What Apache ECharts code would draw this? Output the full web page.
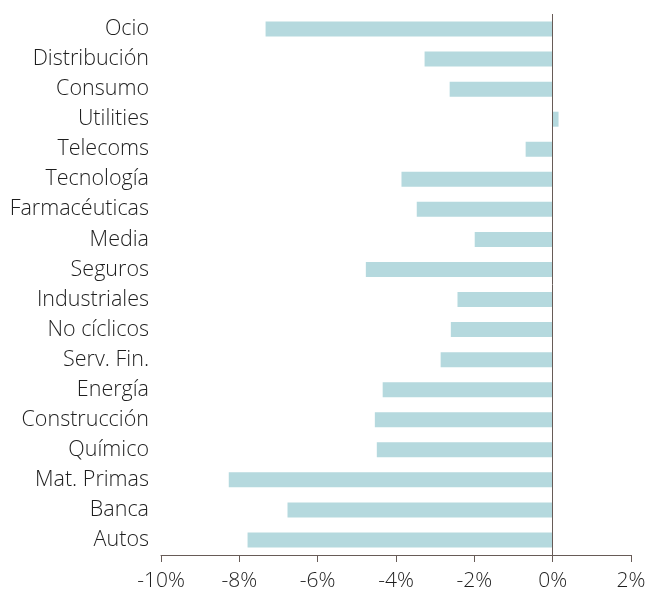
<!DOCTYPE html>
<html>
<head>
<meta charset="utf-8">
<script src="https://cdn.jsdelivr.net/npm/echarts@6/dist/echarts.min.js"></script>
<style>
  html, body { margin: 0; padding: 0; background: #fff; }
  #chart { width: 649px; height: 593px; }
</style>
</head>
<body>
<div id="chart"></div>
<script>
// sectors, bottom to top (category axis draws first item at the bottom)
const sectors = ['Autos', 'Banca', 'Mat. Primas', 'Químico', 'Construcción', 'Energía',
  'Serv. Fin.', 'No cíclicos', 'Industriales', 'Seguros', 'Media', 'Farmacéuticas',
  'Tecnología', 'Telecoms', 'Utilities', 'Consumo', 'Distribución', 'Ocio']
const changes = [-7.79, -6.77, -8.27, -4.49, -4.54, -4.34,
  -2.86, -2.60, -2.43, -4.77, -1.99, -3.47,
  -3.86, -0.69, 0.15, -2.63, -3.27, -7.33]

const axisColor = '#675b57'
const font = 'Open Sans'

const myChart = echarts.init(document.getElementById('chart'))
myChart.setOption({
    animation: false,
    grid: { left: 161, right: 18, top: 14, bottom: 38 },
    xAxis: {
        type: 'value',
        min: -10,
        max: 2,
        interval: 2,
        axisLine: { show: true, lineStyle: { color: axisColor, width: 1 } },
        axisTick: { show: true, length: 7, lineStyle: { color: axisColor } },
        splitLine: { show: false },
        axisLabel: {
            formatter: '{value}%',
            color: '#1e1e1e',
            fontSize: 21,
            fontFamily: font,
            fontWeight: 300,
            margin: 16
        }
    },
    yAxis: {
        type: 'category',
        data: sectors,
        axisLine: { show: false },
        axisTick: { show: false },
        axisLabel: {
            color: '#1e1e1e',
            fontSize: 21.5,
            fontFamily: font,
            fontWeight: 300,
            margin: 12
        }
    },
    series: [{
        type: 'bar',
        data: changes,
        barWidth: 15,
        itemStyle: { color: '#b5d9de' },
        markLine: {
            silent: true,
            symbol: 'none',
            label: { show: false },
            lineStyle: { color: axisColor, width: 1, type: 'solid' },
            data: [{ xAxis: 0 }]
        }
    }]
})
</script>
</body>
</html>
